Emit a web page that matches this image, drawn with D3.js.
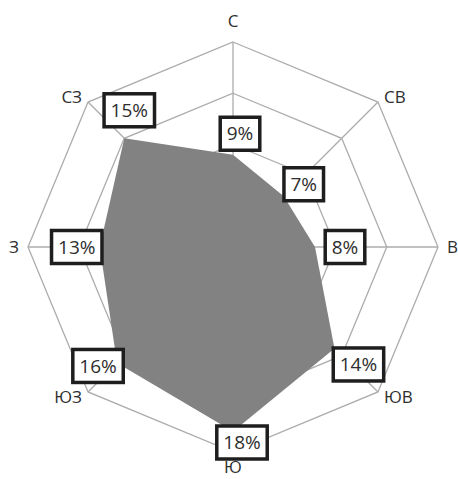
<!DOCTYPE html>
<html>
<head>
<meta charset="utf-8">
<script src="https://cdn.jsdelivr.net/npm/d3@7/dist/d3.min.js"></script>
<style>
  html, body { margin: 0; padding: 0; background: #fff; }
  svg { display: block; }
</style>
</head>
<body>
<svg id="chart" width="458" height="479"></svg>
<script>
// Wind directions, clockwise from north
const directions = ["С", "СВ", "В", "ЮВ", "Ю", "ЮЗ", "З", "СЗ"];
// Share of each direction, %
const shares = [9, 7, 8, 14, 18, 16, 13, 15];
// Grid rings, %
const ringLevels = [5, 10, 15, 20];
// Nudges of the value labels from their points (px)
const labelNudgeX = [7, 20, 30, 24, 9, -19, -23, 5];
const labelNudgeY = [-21, -12, 0, 16, 11, 3, 0, -28];

const svg = d3.select("#chart");
const cx = 233, cy = 247, R = 205;
const font = "'Open Sans', 'Liberation Sans', sans-serif";

const r = d3.scaleLinear().domain([0, 20]).range([0, R]);
const angle = d3.scaleLinear().domain([0, directions.length]).range([0, 2 * Math.PI]);
const pt = (i, v) => [cx + r(v) * Math.sin(angle(i)), cy - r(v) * Math.cos(angle(i))];

const g = svg.append("g");

// rings
const ringLine = d3.line();
ringLevels.forEach(lv => {
  const pts = directions.map((d, i) => pt(i, lv));
  g.append("path")
    .attr("d", ringLine(pts) + "Z")
    .attr("fill", "none")
    .attr("stroke", "#acacac")
    .attr("stroke-width", 1.3);
});

// spokes
directions.forEach((d, i) => {
  const [x, y] = pt(i, 20);
  g.append("line")
    .attr("x1", cx).attr("y1", cy).attr("x2", x).attr("y2", y)
    .attr("stroke", "#acacac").attr("stroke-width", 1.3);
});

// data area
const area = directions.map((d, i) => pt(i, shares[i]));
g.append("path")
  .attr("d", d3.line()(area) + "Z")
  .attr("fill", "#828282")
  .attr("stroke", "none");

// direction labels
directions.forEach((d, i) => {
  const [vx, vy] = pt(i, 20);
  const s = Math.round(Math.sin(angle(i)) * 100) / 100;
  const c = Math.round(Math.cos(angle(i)) * 100) / 100;
  const diag = Math.abs(s) > 0.1 && Math.abs(c) > 0.1;
  const x = vx + (s === 0 ? 0 : Math.sign(s) * (diag ? 6 : 9));
  const y = vy + 6 - c * (diag ? 6.4 : (c < 0 ? 15 : 21));
  g.append("text")
    .attr("x", x).attr("y", y)
    .attr("text-anchor", s > 0 ? "start" : s < 0 ? "end" : "middle")
    .attr("font-family", font)
    .attr("font-size", 17)
    .attr("fill", "#2e2e2e")
    .text(d);
});

// value labels in boxes
directions.forEach((d, i) => {
  const [px, py] = pt(i, shares[i]);
  const x = px + labelNudgeX[i], y = py + labelNudgeY[i];
  const lg = g.append("g").attr("transform", `translate(${x},${y})`);
  const t = lg.append("text")
    .attr("text-anchor", "middle")
    .attr("dy", "0.35em")
    .attr("font-family", font)
    .attr("font-size", 19)
    .attr("fill", "#2e2e2e")
    .text(shares[i] + "%");
  const w = t.node().getComputedTextLength() + 13;
  const h = 33;
  lg.insert("rect", "text")
    .attr("x", -w / 2).attr("y", -h / 2)
    .attr("width", w).attr("height", h)
    .attr("fill", "#fff")
    .attr("stroke", "#1e1e1e")
    .attr("stroke-width", 3.5);
});
</script>
</body>
</html>
